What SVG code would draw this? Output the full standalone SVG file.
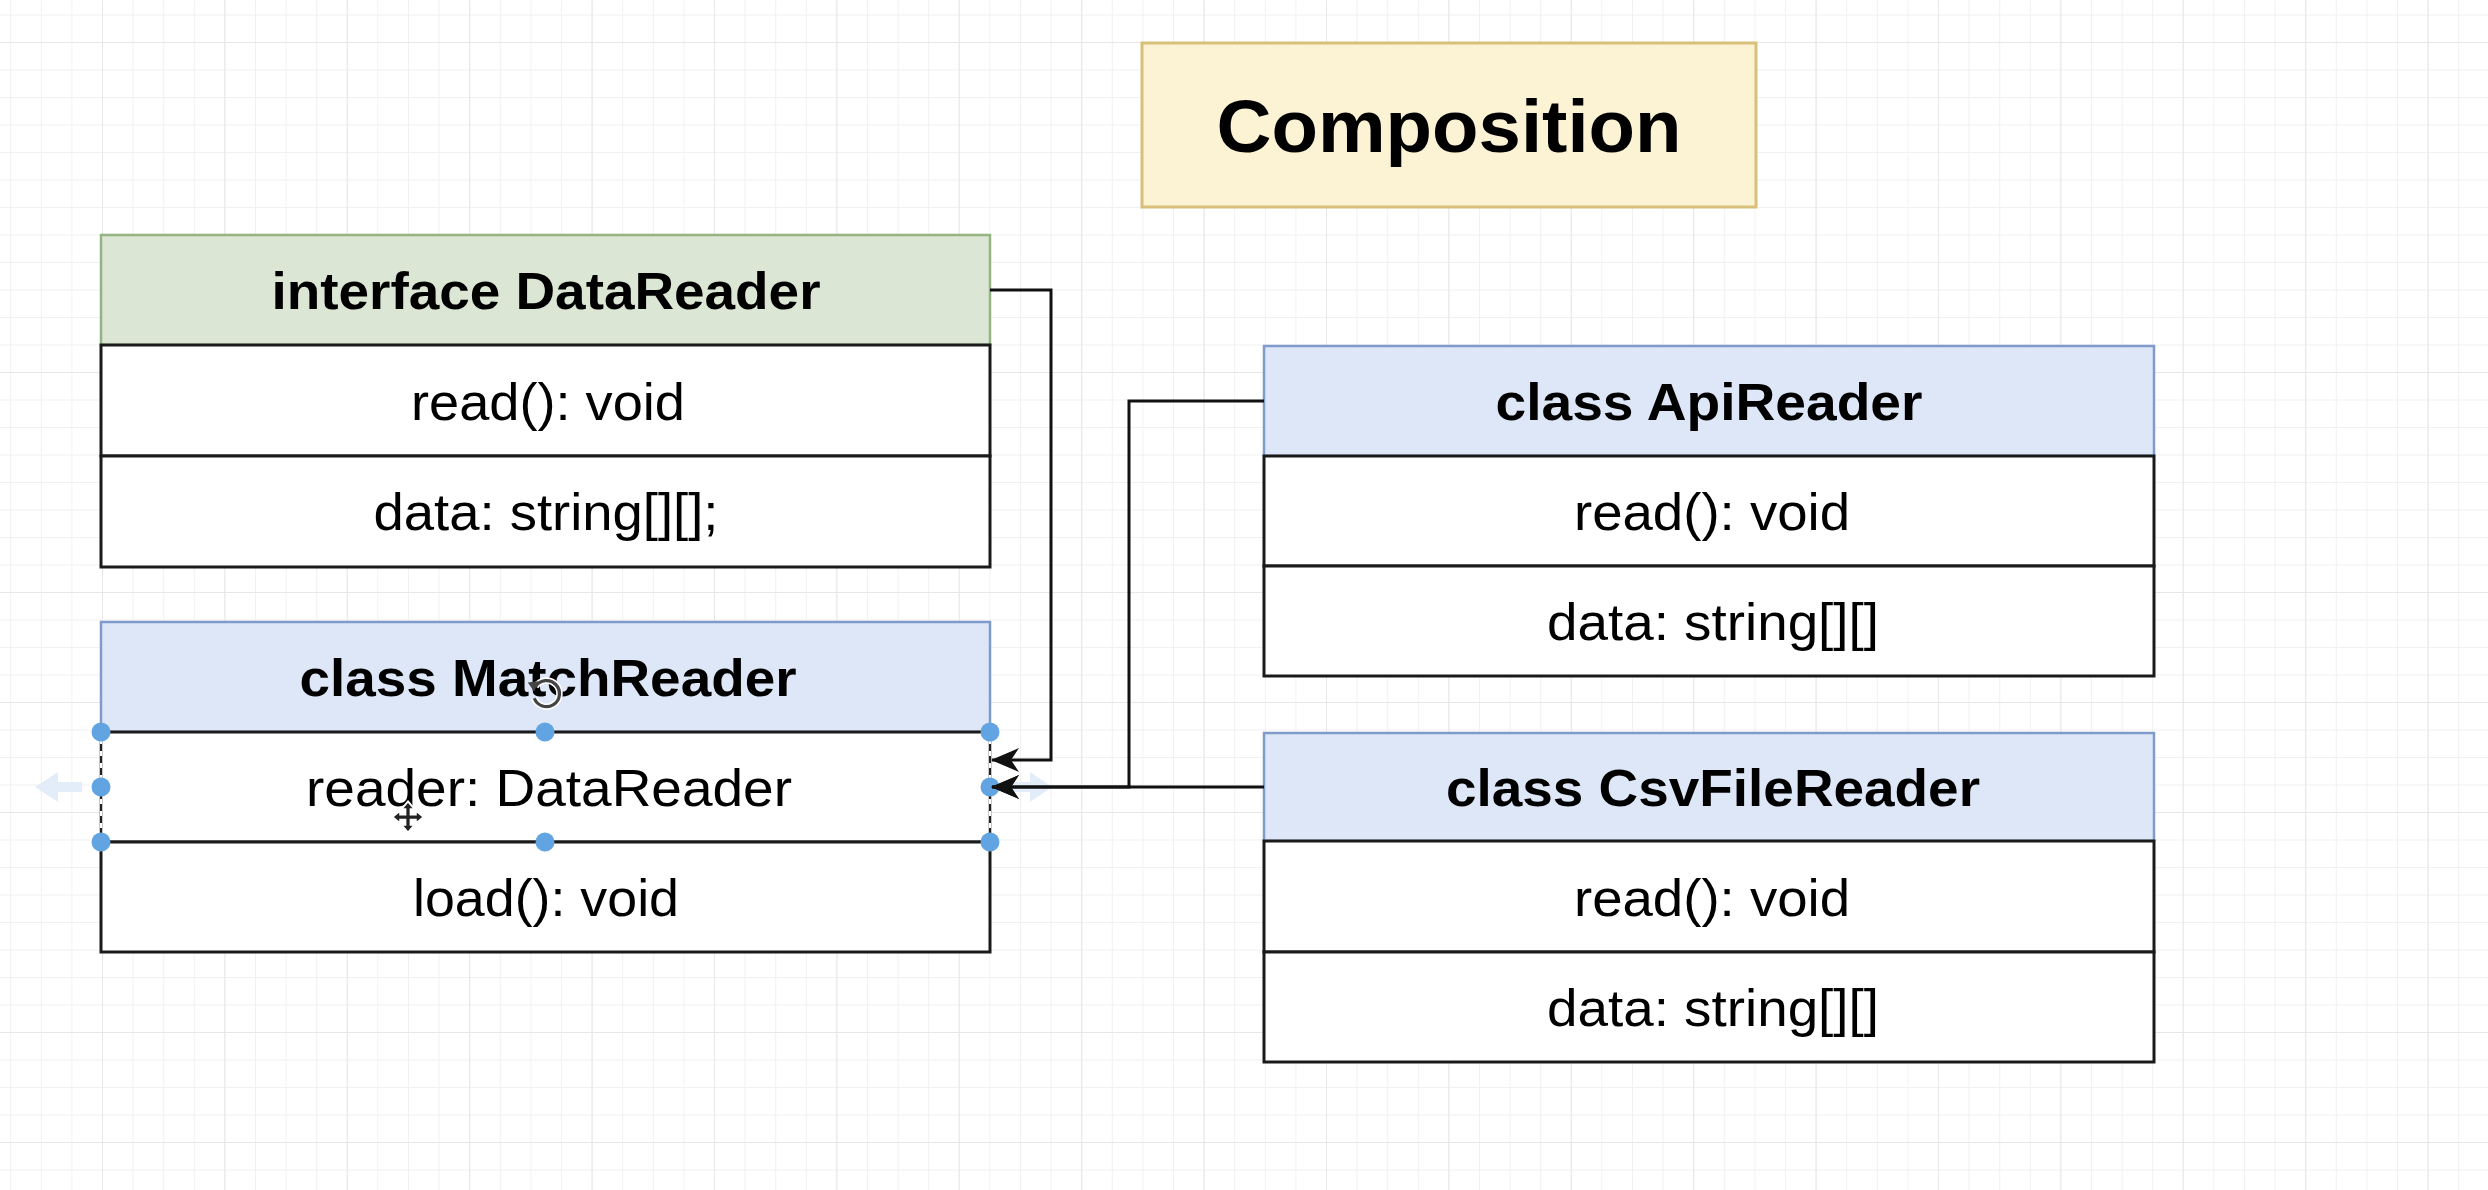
<svg xmlns="http://www.w3.org/2000/svg" width="2488" height="1190" viewBox="0 0 2488 1190">
  <style>
    .t { font-family: "Liberation Sans", Arial, Helvetica, sans-serif; fill: #000; text-anchor: middle; font-size: 52px; }
    .b { font-weight: bold; }
    .title { font-family: "Liberation Sans", Arial, Helvetica, sans-serif; font-weight: bold; font-size: 74px; text-anchor: middle; fill: #000; }
    .hdrBlue { fill: #dee7f7; stroke: #7f9bcc; stroke-width: 2.5; }
    .hdrGreen { fill: #dbe6d5; stroke: #94b581; stroke-width: 2.5; }
    .row { fill: #ffffff; stroke: #1a1a1a; stroke-width: 3; }
    .conn { fill: none; stroke: #111; stroke-width: 3; }
    .handle { fill: #62a4e2; }
  </style>
  <defs>
    <pattern id="minorGrid" width="30.6" height="27.5" x="10.2" y="14.5" patternUnits="userSpaceOnUse">
      <path d="M0 0 V27.5 M0 0 H30.6" fill="none" stroke="#f1f1f1" stroke-width="2"/>
    </pattern>
    <pattern id="majorGrid" width="122.4" height="110" x="102" y="42" patternUnits="userSpaceOnUse">
      <path d="M0 0 V110 M0 0 H122.4" fill="none" stroke="#e7e7e7" stroke-width="2"/>
    </pattern>
    <marker id="arrow" viewBox="0 0 28 24" refX="27" refY="12" markerWidth="28" markerHeight="24" markerUnits="userSpaceOnUse" orient="auto">
      <path d="M0 0 L28 12 L0 24 L8 12 Z" fill="#111"/>
    </marker>
  </defs>

  <rect width="2488" height="1190" fill="#ffffff"/>
  <rect width="2488" height="1190" fill="url(#minorGrid)"/>
  <rect width="2488" height="1190" fill="url(#majorGrid)"/>

  <g id="title">
    <rect x="1142" y="43" width="614" height="164" fill="#fcf2d4" stroke="#d8c07a" stroke-width="3"/>
    <text class="title" x="1449" y="152" textLength="465" lengthAdjust="spacingAndGlyphs">Composition</text>
  </g>

  <g id="DataReader">
    <rect class="hdrGreen" x="101" y="235" width="889" height="110"/>
    <rect class="row" x="101" y="345" width="889" height="111"/>
    <rect class="row" x="101" y="456" width="889" height="111"/>
    <text class="t b" x="546" y="309" textLength="549" lengthAdjust="spacingAndGlyphs">interface DataReader</text>
    <text class="t" x="548" y="420" textLength="274" lengthAdjust="spacingAndGlyphs">read(): void</text>
    <text class="t" x="546" y="530" textLength="345" lengthAdjust="spacingAndGlyphs">data: string[][];</text>
  </g>

  <g id="MatchReader">
    <rect class="hdrBlue" x="101" y="622" width="889" height="110"/>
    <rect class="row" x="101" y="732" width="889" height="110"/>
    <rect class="row" x="101" y="842" width="889" height="110"/>
    <text class="t b" x="548" y="696" textLength="497" lengthAdjust="spacingAndGlyphs">class MatchReader</text>
    <text class="t" x="549" y="806" textLength="486" lengthAdjust="spacingAndGlyphs">reader: DataReader</text>
    <text class="t" x="546" y="916" textLength="266" lengthAdjust="spacingAndGlyphs">load(): void</text>
  </g>

  <g id="ApiReader">
    <rect class="hdrBlue" x="1264" y="346" width="890" height="110"/>
    <rect class="row" x="1264" y="456" width="890" height="110"/>
    <rect class="row" x="1264" y="566" width="890" height="110"/>
    <text class="t b" x="1709" y="420" textLength="427" lengthAdjust="spacingAndGlyphs">class ApiReader</text>
    <text class="t" x="1712" y="530" textLength="276" lengthAdjust="spacingAndGlyphs">read(): void</text>
    <text class="t" x="1713" y="640" textLength="332" lengthAdjust="spacingAndGlyphs">data: string[][]</text>
  </g>

  <g id="CsvFileReader">
    <rect class="hdrBlue" x="1264" y="733" width="890" height="108"/>
    <rect class="row" x="1264" y="841" width="890" height="111"/>
    <rect class="row" x="1264" y="952" width="890" height="110"/>
    <text class="t b" x="1713" y="806" textLength="534" lengthAdjust="spacingAndGlyphs">class CsvFileReader</text>
    <text class="t" x="1712" y="916" textLength="276" lengthAdjust="spacingAndGlyphs">read(): void</text>
    <text class="t" x="1713" y="1026" textLength="332" lengthAdjust="spacingAndGlyphs">data: string[][]</text>
  </g>

  <g id="selection">
    <path d="M35 787 L58 772 L58 782 L82 782 L82 792 L58 792 L58 802 Z" fill="#e3edf9"/>
    <path d="M1052 787 L1030 772 L1030 782 L1010 782 L1010 792 L1030 792 L1030 802 Z" fill="#e3edf9"/>
    <line x1="101" y1="732" x2="101" y2="842" stroke="#ffffff" stroke-width="3"/>
    <line x1="101" y1="732" x2="101" y2="842" stroke="#222" stroke-width="2" stroke-dasharray="7 5"/>
    <line x1="990" y1="732" x2="990" y2="842" stroke="#ffffff" stroke-width="3"/>
    <line x1="990" y1="732" x2="990" y2="842" stroke="#222" stroke-width="2" stroke-dasharray="7 5"/>
    <circle class="handle" cx="101" cy="732" r="9.5"/>
    <circle class="handle" cx="545" cy="732" r="9.5"/>
    <circle class="handle" cx="990" cy="732" r="9.5"/>
    <circle class="handle" cx="101" cy="787" r="9.5"/>
    <circle class="handle" cx="990" cy="787" r="9.5"/>
    <circle class="handle" cx="101" cy="842" r="9.5"/>
    <circle class="handle" cx="545" cy="842" r="9.5"/>
    <circle class="handle" cx="990" cy="842" r="9.5"/>
    <g transform="translate(546 693) scale(1.3)">
      <path d="M-8 -5 A10 10 0 1 1 -9 4" fill="none" stroke="#fff" stroke-width="5"/>
      <path d="M-8 -5 A10 10 0 1 1 -9 4" fill="none" stroke="#444" stroke-width="2.5"/>
      <path d="M-14 -8 L-6 -9 L-9 -1 Z" fill="#444"/>
    </g>
    <g transform="translate(408 817) scale(1.3)">
      <path d="M0 -12 L5 -6 L2 -6 L2 -2 L6 -2 L6 -5 L12 0 L6 5 L6 2 L2 2 L2 6 L5 6 L0 12 L-5 6 L-2 6 L-2 2 L-6 2 L-6 5 L-12 0 L-6 -5 L-6 -2 L-2 -2 L-2 -6 L-5 -6 Z" fill="#222" stroke="#fff" stroke-width="1.5"/>
    </g>
  </g>

  <g id="connectors">
    <path class="conn" d="M990 290 H1051 V760 H992" marker-end="url(#arrow)"/>
    <path class="conn" d="M1264 401 H1129 V787 H992" marker-end="url(#arrow)"/>
    <path class="conn" d="M1264 787 H992" marker-end="url(#arrow)"/>
  </g>
</svg>
